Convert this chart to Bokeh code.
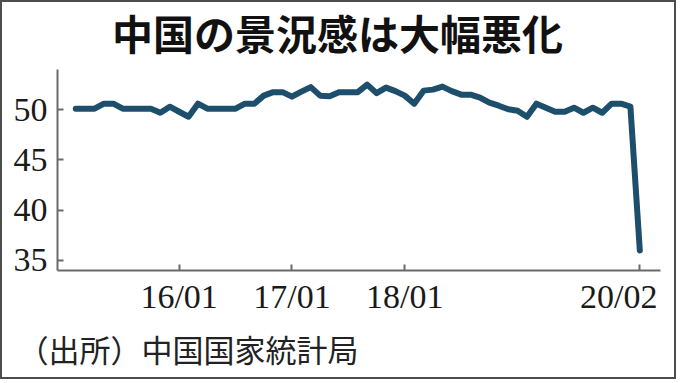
from bokeh.plotting import figure
from bokeh.models import ColumnDataSource, FixedTicker, Range1d, Title, Label
from bokeh.embed import file_html
from bokeh.resources import INLINE

# monthly China PMI, 2015/02 .. 2020/02
months = []
for yy in range(15, 21):
    for mm in range(1, 13):
        months.append(f"{yy:02d}/{mm:02d}")
months = months[months.index("15/02"):months.index("20/02") + 1]

pmi = [50.1, 50.1, 50.1, 50.6, 50.6, 50.1, 50.1, 50.1, 50.1, 49.7, 50.3,
       49.8, 49.3, 50.6, 50.1, 50.1, 50.1, 50.1, 50.6, 50.6, 51.4, 51.75,
       51.75, 51.3, 51.8, 52.25, 51.4, 51.35, 51.75, 51.75, 51.75, 52.5,
       51.65, 52.2, 51.85, 51.4, 50.6, 51.9, 52.0, 52.3, 51.85, 51.5, 51.5,
       51.2, 50.7, 50.4, 50.05, 49.9, 49.3, 50.6, 50.2, 49.8, 49.8, 50.2,
       49.7, 50.2, 49.7, 50.6, 50.6, 50.3, 36.0]

x_tick_labels = ["16/01", "17/01", "18/01", "20/02"]
y_ticks = [35, 40, 45, 50]
y_axis_span = (34, 54)

title_text = "中国の景況感は大幅悪化"
source_text = "（出所）中国国家統計局"

LINE = "#1d4e6c"
AXIS = "#6a6a6a"
JP_FONT = "Noto Sans CJK JP"
NUM_FONT = "Liberation Sans Narrow"

idx = list(range(len(months)))
src = ColumnDataSource(dict(x=idx, y=pmi))

# the plot frame reaches the top edge; the y axis line is bounded to 34..54
p = figure(width=676, height=379, output_backend="svg", toolbar_location=None,
           title=None,
           x_range=Range1d(-1.94, 62.2), y_range=Range1d(34, 60.67),
           min_border_left=55, min_border_right=18, min_border_top=0,
           min_border_bottom=111,
           styles={"border": "2px solid #4d4d4d"})
p.outline_line_color = None
p.grid.visible = False
p.background_fill_color = "white"
p.border_fill_color = "white"

p.line("x", "y", source=src, line_color=LINE, line_width=6,
       line_join="round", line_cap="round")

tick_pos = [months.index(t) for t in x_tick_labels]
# the last label is pulled left of its tick, as in the original
label_shift = [0, 0, 0, -2.25]
label_pos = [t + s for t, s in zip(tick_pos, label_shift)]

xa = p.xaxis[0]
xa.ticker = FixedTicker(ticks=label_pos, minor_ticks=tick_pos)
xa.major_label_overrides = {lp: lab for lp, lab in zip(label_pos, x_tick_labels)}
xa.major_label_text_font = NUM_FONT
xa.major_label_text_font_size = "34px"
xa.major_label_text_color = "#1a1a1a"
xa.major_label_standoff = 7
xa.axis_line_color = AXIS
xa.axis_line_width = 2
xa.major_tick_line_color = None
xa.major_tick_in = 0
xa.major_tick_out = 0
xa.minor_tick_line_color = AXIS
xa.minor_tick_line_width = 2
xa.minor_tick_in = 6
xa.minor_tick_out = 0

ya = p.yaxis[0]
ya.ticker = FixedTicker(ticks=y_ticks)
ya.bounds = y_axis_span
ya.axis_line_color = AXIS
ya.axis_line_width = 2
ya.major_tick_line_color = AXIS
ya.major_tick_line_width = 2
ya.major_tick_in = 6
ya.major_tick_out = 0
ya.minor_tick_line_color = None
ya.major_label_text_font = NUM_FONT
ya.major_label_text_font_size = "34px"
ya.major_label_text_color = "#1a1a1a"
ya.major_label_standoff = 10

p.add_layout(Label(x=27.85, y=57.74, text=title_text, text_align="center",
                   text_baseline="middle", text_font=JP_FONT,
                   text_font_size="41px", text_font_style="bold",
                   text_color="#111111"))
p.add_layout(Title(text=source_text, align="left", text_font=JP_FONT,
                   text_font_size="31px", text_font_style="normal",
                   text_color="#222222", offset=-40, standoff=13), "below")

open("out.html", "w").write(file_html(p, INLINE))
